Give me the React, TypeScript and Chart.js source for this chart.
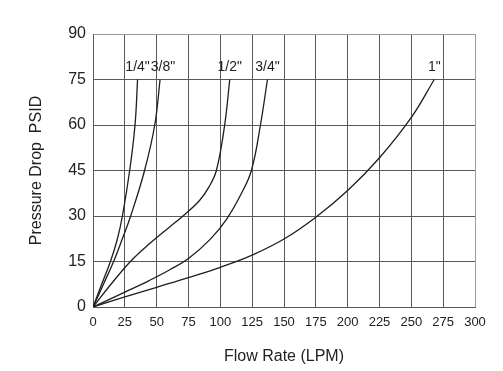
import React, { useEffect, useRef } from "react";
import { Chart, registerables } from "chart.js";

Chart.register(...registerables);

const sizeLabels = ['1/4"', '3/8"', '1/2"', '3/4"', '1"'];

const flow14 = [0, 6.8, 13.7, 18.9, 23.1, 28.8, 33, 35];
const psid14 = [0, 7.5, 15, 22, 30, 45, 60, 75];

const flow38 = [0, 8.2, 16.2, 22.6, 29.6, 40.5, 48.5, 52.7];
const psid38 = [0, 7.5, 15, 22, 30, 45, 60, 75];

const flow12 = [0, 14.1, 29.4, 44.5, 60.2, 70.7, 83.8, 91.1, 96.9, 103.4, 107.4];
const psid12 = [0, 7.5, 15, 20.9, 26.4, 30, 35.2, 39.6, 45, 60, 75];

const flow34 = [0, 25, 44.5, 60, 75, 92, 105, 116.5, 124.4, 131.5, 137];
const psid34 = [0, 4.9, 8.8, 12.2, 16, 22.3, 29, 37.4, 45, 60, 75];

const flow1 = [0, 25, 50, 75, 100, 125, 150, 175, 200, 225, 250, 268];
const psid1 = [0, 3.3, 6.5, 9.7, 13.1, 17.1, 22.4, 29.6, 38.4, 49.2, 62.5, 75];

const xTicksMin = 0;
const xTicksMax = 300;
const xStep = 25;
const yTicksMin = 0;
const yTicksMax = 90;
const yStep = 15;

const xTitle = "Flow Rate (LPM)";
const yTitle = "Pressure Drop  PSID";

const series = [
  [flow14, psid14],
  [flow38, psid38],
  [flow12, psid12],
  [flow34, psid34],
  [flow1, psid1],
];

const FONT = "'Liberation Sans', Arial, Helvetica, sans-serif";

const endLabelPlugin = {
  id: "endLabels",
  afterDatasetsDraw(chart: any) {
    const ctx = chart.ctx;
    ctx.save();
    ctx.font = `14px ${FONT}`;
    ctx.fillStyle = "#222";
    ctx.textAlign = "center";
    ctx.textBaseline = "middle";
    let prevRight = -Infinity;
    chart.data.datasets.forEach((ds: any, i: number) => {
      const meta = chart.getDatasetMeta(i);
      const pts = meta.data;
      const last = pts[pts.length - 1];
      if (!last) return;
      const text = ds.label;
      const w = ctx.measureText(text).width;
      let cx = last.x;
      if (cx - w / 2 < prevRight + 1) cx = prevRight + 1 + w / 2;
      ctx.fillText(text, cx, last.y - 12);
      prevRight = cx + w / 2;
    });
    ctx.restore();
  },
};

export default function App() {
  const ref = useRef<HTMLCanvasElement>(null);

  useEffect(() => {
    if (!ref.current) return;
    const chart = new Chart(ref.current, {
      type: "line",
      data: {
        datasets: series.map(([xs, ys], i) => ({
          label: sizeLabels[i],
          data: xs.map((x, j) => ({ x, y: ys[j] })),
          borderColor: "#1e1e1e",
          borderWidth: 1.3,
          pointRadius: 0,
          fill: false,
          tension: 0.4,
        })),
      },
      options: {
        responsive: false,
        animation: false,
        devicePixelRatio: 1,
        layout: { padding: { top: 34, right: 28, left: 0, bottom: 0 } },
        plugins: {
          legend: { display: false },
          tooltip: { enabled: false },
          title: { display: false },
        },
        scales: {
          x: {
            type: "linear",
            min: xTicksMin,
            max: xTicksMax,
            ticks: {
              stepSize: xStep,
              color: "#222",
              font: { family: FONT, size: 13 },
              padding: 8,
              maxRotation: 0,
              autoSkip: false,
            },
            grid: {
              color: (c: any) => (c.index === 12 ? "#9a9a9a" : "#5a5a5a"),
              lineWidth: 1,
              drawTicks: false,
            },
            border: { display: true, color: "#5a5a5a", width: 1 },
            title: {
              display: true,
              text: xTitle,
              color: "#222",
              font: { family: FONT, size: 16 },
              padding: { top: 0, bottom: 5 },
            },
            afterFit: (s: any) => {
              s.height = 64;
            },
          },
          y: {
            type: "linear",
            min: yTicksMin,
            max: yTicksMax,
            ticks: {
              stepSize: yStep,
              color: "#222",
              font: { family: FONT, size: 16 },
              padding: 7,
            },
            grid: {
              color: (c: any) => (c.index === 6 ? "#9a9a9a" : "#5a5a5a"),
              lineWidth: 1,
              drawTicks: false,
            },
            border: { display: true, color: "#5a5a5a", width: 1 },
            title: {
              display: true,
              text: yTitle,
              color: "#222",
              font: { family: FONT, size: 16 },
              padding: { top: 27, bottom: 0 },
            },
            afterFit: (s: any) => {
              s.width = 93;
            },
          },
        },
      },
      plugins: [endLabelPlugin],
    });
    return () => chart.destroy();
  }, []);

  return (
    <div style={{ position: "absolute", left: 0, top: 0, width: 503, height: 371, background: "#fff" }}>
      <canvas ref={ref} width={503} height={371} style={{ display: "block", width: 503, height: 371 }} />
    </div>
  );
}
